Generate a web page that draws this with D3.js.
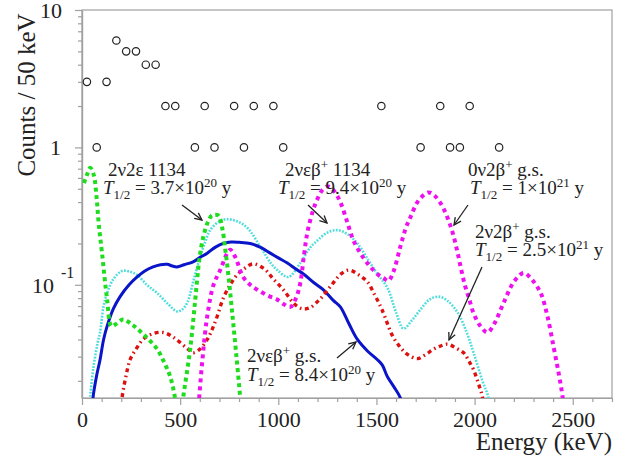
<!DOCTYPE html>
<html>
<head>
<meta charset="utf-8">
<script src="https://cdn.jsdelivr.net/npm/d3@7"></script>
<style>
  body { margin: 0; background: #fff; }
</style>
</head>
<body>
<div id="chart-area"></div>
<script>
// measured counts, 50 keV bins (bin centre, counts)
var binCentres = [25, 75, 125, 175, 225, 275, 325, 375, 425, 475, 575, 625, 675, 775, 825, 875, 975, 1025,
                  1525, 1725, 1825, 1875, 1925, 1975, 2125];
var binCounts  = [3, 1, 3, 6, 5, 5, 4, 4, 2, 2, 1, 2, 1, 2, 1, 2, 2, 1,
                  2, 1, 2, 1, 1, 2, 1];

// expected spectra [energy keV, counts / 50 keV]
var green2v2e1134 = [[10,0.55],[25,0.63],[42,0.71],[60,0.63],[75,0.42],[85,0.28],[102,0.17],[128,0.078],
  [150,0.05],[175,0.052],[209,0.056],[250,0.052],[296,0.046],[340,0.04],[383,0.034],[420,0.027],[449,0.0215],
  [474,0.015],[495,0.009],[515,0.015],[551,0.034],[577,0.078],[597,0.15],[617,0.22],[643,0.29],[663,0.32],
  [694,0.32],[714,0.26],[730,0.18],[745,0.12],[765,0.063],[785,0.032],[806,0.015],[815,0.01]];

var cyan2veb1134 = [[35,0.01],[41,0.015],[60,0.026],[80,0.038],[92,0.045],[110,0.07],[128,0.087],[160,0.11],
  [204,0.126],[240,0.125],[281,0.118],[330,0.1],[383,0.087],[440,0.072],[484,0.064],[510,0.066],[536,0.074],
  [570,0.11],[602,0.16],[630,0.21],[653,0.25],[700,0.29],[740,0.3],[790,0.29],[842,0.26],[908,0.19],
  [960,0.145],[995,0.128],[1051,0.114],[1112,0.144],[1160,0.185],[1199,0.21],[1250,0.24],[1301,0.25],
  [1350,0.235],[1403,0.2],[1460,0.15],[1505,0.12],[1556,0.095],[1600,0.063],[1638,0.048],[1680,0.055],
  [1724,0.066],[1770,0.078],[1816,0.082],[1860,0.077],[1913,0.063],[1960,0.045],[1995,0.032],[2040,0.02],
  [2071,0.015],[2085,0.01]];

var magenta0v2b = [[590,0.01],[597,0.015],[615,0.03],[638,0.059],[670,0.1],[704,0.128],[740,0.17],[755,0.18],
  [780,0.16],[821,0.114],[857,0.1],[893,0.092],[950,0.083],[995,0.078],[1030,0.072],[1061,0.069],[1090,0.08],
  [1112,0.103],[1130,0.16],[1148,0.24],[1175,0.34],[1199,0.42],[1225,0.49],[1255,0.52],[1285,0.48],
  [1316,0.4],[1350,0.29],[1383,0.21],[1430,0.16],[1469,0.135],[1510,0.118],[1536,0.112],[1561,0.107],
  [1587,0.125],[1622,0.19],[1650,0.26],[1673,0.31],[1714,0.41],[1765,0.47],[1800,0.44],[1837,0.37],
  [1865,0.3],[1888,0.24],[1910,0.18],[1929,0.135],[1950,0.1],[1969,0.082],[1995,0.062],[2030,0.05],
  [2066,0.045],[2100,0.052],[2148,0.074],[2200,0.105],[2250,0.122],[2290,0.11],[2337,0.087],[2370,0.06],
  [2403,0.035],[2430,0.022],[2449,0.015],[2460,0.01]];

var red2v2b = [[195,0.01],[204,0.015],[225,0.022],[245,0.0285],[275,0.034],[311,0.04],[360,0.044],[413,0.045],
  [460,0.042],[500,0.038],[540,0.034],[566,0.032],[600,0.034],[638,0.04],[665,0.048],[689,0.059],[720,0.08],
  [755,0.1],[790,0.118],[830,0.132],[872,0.142],[930,0.13],[975,0.11],[1026,0.092],[1080,0.073],[1120,0.067],
  [1160,0.068],[1210,0.078],[1265,0.097],[1320,0.12],[1360,0.128],[1410,0.118],[1454,0.105],[1490,0.085],
  [1520,0.07],[1540,0.06],[1580,0.043],[1622,0.035],[1660,0.031],[1709,0.029],[1750,0.031],[1791,0.034],
  [1830,0.036],[1862,0.037],[1900,0.035],[1944,0.032],[1970,0.028],[1995,0.024],[2020,0.019],[2041,0.015],
  [2050,0.01]];

var blue2vebgs = [[50,0.01],[56,0.015],[75,0.022],[92,0.0285],[110,0.04],[128,0.05],[160,0.067],[194,0.082],
  [240,0.1],[281,0.114],[320,0.126],[362,0.135],[400,0.14],[434,0.141],[460,0.137],[484,0.135],[520,0.14],
  [566,0.147],[600,0.158],[638,0.17],[680,0.188],[720,0.2],[760,0.205],[800,0.204],[857,0.2],[910,0.187],
  [959,0.17],[1000,0.157],[1046,0.144],[1090,0.13],[1128,0.12],[1180,0.104],[1230,0.092],[1280,0.077],
  [1316,0.069],[1360,0.052],[1403,0.04],[1454,0.033],[1505,0.0285],[1530,0.026],[1556,0.0214],[1590,0.018],
  [1622,0.015],[1635,0.012]];

var xTickLabels = ["0", "500", "1000", "1500", "2000", "2500"];
var yTickLabels = ["10", "1", "10"];

// annotation text, "|" marks a superscript part
var labelTop = ["2ν2ε 1134", "2νεβ|+| 1134", "0ν2β|+| g.s.", "2ν2β|+| g.s.", "2νεβ|+| g.s."];
var labelHalf = ["3.7×10|20", "9.4×10|20", "1×10|21", "2.5×10|21", "8.4×10|20"];

var serif = "'Liberation Serif', 'DejaVu Serif', 'Times New Roman', serif";

var svg = d3.select("#chart-area").append("svg")
    .attr("width", 625)
    .attr("height", 461);

var x = d3.scaleLinear().domain([0, 2700]).range([82, 612]);
var y = d3.scaleLog().domain([0.015, 10]).range([398, 10]);

svg.append("clipPath").attr("id", "plot-clip")
  .append("rect").attr("x", 82).attr("y", 10).attr("width", 530).attr("height", 388);

// frame
svg.append("rect")
    .attr("x", 82).attr("y", 10).attr("width", 530).attr("height", 388)
    .attr("fill", "none").attr("stroke", "#a0a0a0").attr("stroke-width", 1.2);

// x axis ticks
var xMinor = d3.range(0, 2701, 100).filter(function(d){ return d % 500 != 0; });
var xAxisMajor = svg.append("g").attr("transform", "translate(0,398)")
    .call(d3.axisBottom(x).tickValues([0, 500, 1000, 1500, 2000, 2500]).tickSize(7).tickSizeOuter(0)
      .tickFormat(function(d, i){ return xTickLabels[i]; }));
svg.append("g").attr("transform", "translate(0,398)")
    .call(d3.axisBottom(x).tickValues(xMinor).tickSize(4).tickSizeOuter(0).tickFormat(""));
xAxisMajor.selectAll("text").attr("dy", 0).attr("y", 29)
    .style("font-size", "22px");

// y axis ticks
var yMajor = [0.1, 1, 10];
var yMinor = [];
[0.01, 0.1, 1].forEach(function(dec){
  for (var k = 2; k <= 9; k++) {
    var v = dec * k;
    if (v >= 0.015) yMinor.push(v);
  }
});
svg.append("g").attr("transform", "translate(82,0)")
    .call(d3.axisLeft(y).tickValues(yMajor).tickSize(7).tickSizeOuter(0).tickFormat(""));
svg.append("g").attr("transform", "translate(82,0)")
    .call(d3.axisLeft(y).tickValues(yMinor).tickSize(4).tickSizeOuter(0).tickFormat(""));
svg.selectAll(".domain, .tick line").attr("stroke", "#a0a0a0").attr("stroke-width", 1.2);

svg.append("text").attr("x", 62).attr("y", y(10) + 8).attr("text-anchor", "end")
    .style("font-size", "22px").text(yTickLabels[0]);
svg.append("text").attr("x", 61).attr("y", y(1) + 8).attr("text-anchor", "end")
    .style("font-size", "22px").text(yTickLabels[1]);
svg.append("text").attr("x", 54).attr("y", y(0.1) + 8).attr("text-anchor", "end")
    .style("font-size", "22px").text(yTickLabels[2]);
svg.append("text").attr("x", 61).attr("y", y(0.1) - 7)
    .style("font-size", "16px").text("-1");

// axis titles
svg.append("text")
    .attr("transform", "translate(35,95) rotate(-90)")
    .attr("text-anchor", "middle")
    .style("font-size", "25px")
    .text("Counts / 50 keV");
svg.append("text")
    .attr("x", 612).attr("y", 450)
    .attr("text-anchor", "end")
    .style("font-size", "25px")
    .text("Energy (keV)");

// spectra
var line = d3.line()
    .x(function(d){ return x(d[0]); })
    .y(function(d){ return y(d[1]); })
    .curve(d3.curveCatmullRom.alpha(0.5));

var curves = svg.append("g").attr("clip-path", "url(#plot-clip)");

function drawCurve(data, colour, width, dash) {
  curves.append("path")
      .datum(data)
      .attr("d", line)
      .attr("fill", "none")
      .attr("stroke", colour)
      .attr("stroke-width", width)
      .attr("stroke-dasharray", dash);
}
drawCurve(cyan2veb1134, "#4fdcdc", 2.6, "1.8,1.4");
drawCurve(blue2vebgs, "#0a14c8", 3, null);
drawCurve(red2v2b, "#dd1010", 3.4, "4,3.5,1.6,3.5");
drawCurve(magenta0v2b, "#ee10ee", 4, "4,4");
drawCurve(green2v2e1134, "#1fdc1f", 4, "4,3.5");

// data points
svg.selectAll("circle")
    .data(binCentres)
    .enter()
    .append("circle")
    .attr("cx", function(d){ return x(d); })
    .attr("cy", function(d, i){ return y(binCounts[i]); })
    .attr("r", 3.7)
    .attr("fill", "none")
    .attr("stroke", "#222")
    .attr("stroke-width", 1.2);

// annotations
var annot = [
  {tx: 108, ty: 176, hx: 103, hy: 194, ax: [182, 205, 202, 220]},
  {tx: 285, ty: 176, hx: 278, hy: 194, ax: [308, 205, 327, 223]},
  {tx: 468, ty: 176, hx: 470, hy: 194, ax: [468, 205, 454, 225]},
  {tx: 475, ty: 238, hx: 475, hy: 256, ax: [482, 267, 449, 340]},
  {tx: 247, ty: 362, hx: 247, hy: 381, ax: [337, 358, 356, 342]}
];

function addSuperText(sel, str) {
  var parts = str.split("|");
  sel.append("tspan").text(parts[0]);
  if (parts.length > 1) {
    sel.append("tspan").attr("dy", -7).style("font-size", "13px").text(parts[1]);
    sel.append("tspan").attr("dy", 7).text(parts[2] || "");
  }
}

annot.forEach(function(a, i){
  var t1 = svg.append("text").attr("x", a.tx).attr("y", a.ty).style("font-size", "19px");
  addSuperText(t1, labelTop[i]);

  var t2 = svg.append("text").attr("x", a.hx).attr("y", a.hy).style("font-size", "19px");
  t2.append("tspan").style("font-style", "italic").text("T");
  t2.append("tspan").attr("dy", 5).style("font-size", "13px").text("1/2");
  t2.append("tspan").attr("dy", -5).text(" = ");
  var p = labelHalf[i].split("|");
  t2.append("tspan").text(p[0]);
  t2.append("tspan").attr("dy", -7).style("font-size", "13px").text(p[1]);
  t2.append("tspan").attr("dy", 7).text(" y");

  // arrow
  var x1 = a.ax[0], y1 = a.ax[1], x2 = a.ax[2], y2 = a.ax[3];
  var ang = Math.atan2(y2 - y1, x2 - x1);
  var hl = 8, hw = 0.45;
  svg.append("line")
      .attr("x1", x1).attr("y1", y1).attr("x2", x2).attr("y2", y2)
      .attr("stroke", "#222").attr("stroke-width", 1.3);
  svg.append("path")
      .attr("d", "M" + (x2 - hl * Math.cos(ang - hw)) + "," + (y2 - hl * Math.sin(ang - hw)) +
                 "L" + x2 + "," + y2 +
                 "L" + (x2 - hl * Math.cos(ang + hw)) + "," + (y2 - hl * Math.sin(ang + hw)))
      .attr("fill", "none").attr("stroke", "#222").attr("stroke-width", 1.3);
});

// every text in the serif face, dark grey
svg.selectAll("text")
    .attr("font-family", serif)
    .style("font-family", serif)
    .attr("fill", "#222");
</script>
</body>
</html>
